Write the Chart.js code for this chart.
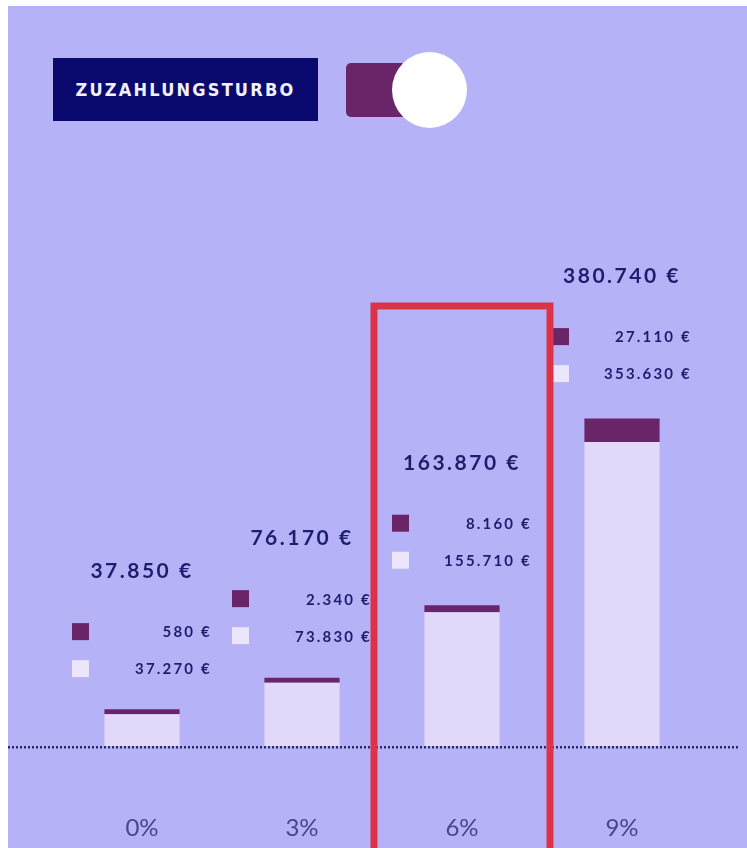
<!DOCTYPE html>
<html>
<head>
<meta charset="utf-8">
<script src="https://cdn.jsdelivr.net/npm/chart.js@4"></script>
<style>
  html, body { margin: 0; padding: 0; background: #ffffff; }
  body { width: 747px; height: 848px; position: relative; overflow: hidden; }
  #panel { position: absolute; left: 8px; top: 6px; width: 739px; height: 842px; background: #b5b2f8; }
  #badge { position: absolute; left: 53px; top: 58px; width: 265px; height: 63px; background: #0a0a6e;
           color: #f2f0ff; font-family: "DejaVu Sans Condensed", "DejaVu Sans", sans-serif; font-weight: bold;
           font-size: 18px; letter-spacing: 2.2px; display: flex; align-items: center; justify-content: center; }
  #toggleTrack { position: absolute; left: 346px; top: 63px; width: 84px; height: 54px; background: #6a2468; border-radius: 5px; }
  #toggleKnob { position: absolute; left: 392px; top: 52px; width: 75px; height: 76px; background: #ffffff; border-radius: 50%; }
  #c { position: absolute; left: 0; top: 0; }
</style>
</head>
<body>
<div id="panel"></div>
<div id="badge">ZUZAHLUNGSTURBO</div>
<div id="toggleTrack"></div>
<div id="toggleKnob"></div>
<canvas id="c" width="747" height="908"></canvas>
<script>
// ---- data ----
const categories = ['0%', '3%', '6%', '9%'];
const totals = [37850, 76170, 163870, 380740];
const turboValues = [580, 2340, 8160, 27110];     // purple (top) segment
const baseValues = [37270, 73830, 155710, 353630]; // light (bottom) segment
const highlightIndex = 2; // the "6%" column is framed in red

const COLORS = {
  turbo: '#6a2468',
  base: '#e2d8fa',
  baseSwatch: '#ece6fc',
  text: '#1e1e6e',
  tick: '#46468f',
  dots: '#2a2a66',
  frame: '#dc3446'
};

function euro(v) {
  return String(v).replace(/\B(?=(\d{3})+(?!\d))/g, '.') + ' €';
}

const labelPlugin = {
  id: 'groupLabels',
  afterDraw(chart) {
    const ctx = chart.ctx;
    const x = chart.scales.x, y = chart.scales.y;
    const area = chart.chartArea;
    const step = x.getPixelForValue(1) - x.getPixelForValue(0);
    ctx.save();

    // dotted baseline
    const y0 = y.getPixelForValue(0) + 1;
    ctx.strokeStyle = COLORS.dots;
    ctx.lineWidth = 2.5;
    ctx.setLineDash([2, 2]);
    ctx.beginPath();
    ctx.moveTo(area.left - 54, y0);
    ctx.lineTo(area.right + 38, y0);
    ctx.stroke();
    ctx.setLineDash([]);

    // value labels per group
    categories.forEach((c, i) => {
      const cx = x.getPixelForValue(i);
      const top = y.getPixelForValue(totals[i]);
      const ly = top - 142;
      ctx.fillStyle = COLORS.text;
      ctx.textBaseline = 'middle';
      ctx.font = 'bold 21px Lato';
      ctx.letterSpacing = '2.5px';
      ctx.textAlign = 'center';
      ctx.fillText(euro(totals[i]), cx, ly);

      const s1 = ly + 60, s2 = ly + 97;
      ctx.fillStyle = COLORS.turbo;
      ctx.fillRect(cx - 70, s1 - 8.5, 17, 17);
      ctx.fillStyle = COLORS.baseSwatch;
      ctx.fillRect(cx - 70, s2 - 8.5, 17, 17);

      ctx.fillStyle = COLORS.text;
      ctx.font = 'bold 15px Lato';
      ctx.letterSpacing = '2.2px';
      ctx.textAlign = 'right';
      ctx.fillText(euro(turboValues[i]), cx + 70, s1 + 1);
      ctx.fillText(euro(baseValues[i]), cx + 70, s2 + 1);
    });
    ctx.letterSpacing = '0px';

    // red highlight frame
    const hx = x.getPixelForValue(highlightIndex);
    ctx.strokeStyle = COLORS.frame;
    ctx.lineWidth = 7;
    ctx.strokeRect(hx - 0.55 * step, area.top - 10, 1.1 * step, chart.height + 20);
    ctx.restore();
  }
};

new Chart(document.getElementById('c'), {
  type: 'bar',
  data: {
    labels: categories,
    datasets: [
      { label: 'Einzahlungen', data: baseValues, backgroundColor: COLORS.base, stack: 's' },
      { label: 'Zuzahlungsturbo', data: turboValues, backgroundColor: COLORS.turbo, stack: 's', minBarLength: 5 }
    ]
  },
  options: {
    responsive: false,
    devicePixelRatio: 1,
    animation: false,
    layout: { padding: { top: 316, left: 62, right: 45, bottom: 5 } },
    datasets: { bar: { barPercentage: 0.47, categoryPercentage: 1 } },
    plugins: { legend: { display: false }, tooltip: { enabled: false } },
    scales: {
      x: {
        stacked: true,
        grid: { display: false },
        border: { display: false },
        ticks: { color: COLORS.tick, font: { family: 'Lato', size: 24 }, padding: 60 }
      },
      y: { stacked: true, display: false, min: 0, max: 500000 }
    }
  },
  plugins: [labelPlugin]
});
</script>
</body>
</html>
